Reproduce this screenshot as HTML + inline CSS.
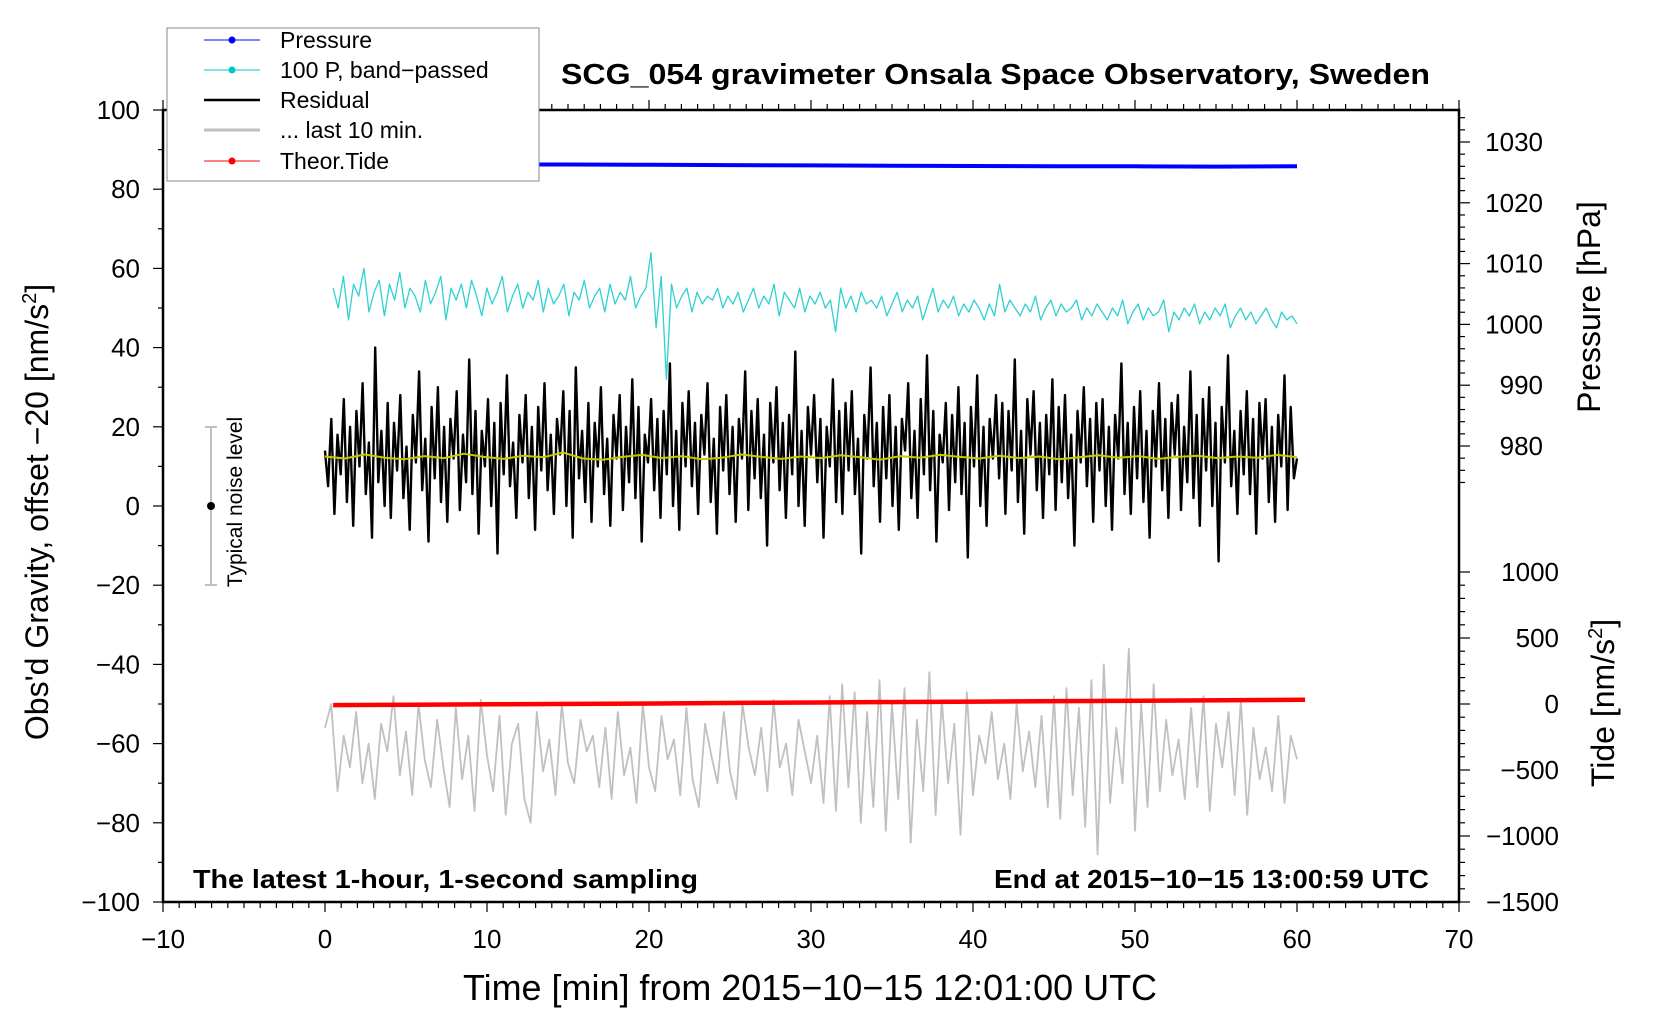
<!DOCTYPE html>
<html><head><meta charset="utf-8"><style>
body{margin:0;background:#fff;width:1660px;height:1020px;overflow:hidden}
svg{display:block;font-family:"Liberation Sans",sans-serif}
</style></head><body>
<svg id="chart" width="1660" height="1020" viewBox="0 0 1660 1020" xmlns="http://www.w3.org/2000/svg">
<g id="marks"></g>
<g id="axes"></g>
<text x="1430" y="84" text-anchor="end" font-weight="bold" font-size="29" textLength="869" lengthAdjust="spacingAndGlyphs">SCG_054 gravimeter Onsala Space Observatory, Sweden</text>
<text x="193" y="888" font-weight="bold" font-size="26" textLength="505" lengthAdjust="spacingAndGlyphs">The latest 1-hour, 1-second sampling</text>
<text x="1429" y="888" text-anchor="end" font-weight="bold" font-size="26" textLength="435" lengthAdjust="spacingAndGlyphs">End at 2015−10−15 13:00:59 UTC</text>
<text x="810" y="1000" text-anchor="middle" font-size="36" textLength="694" lengthAdjust="spacingAndGlyphs">Time [min] from 2015−10−15 12:01:00 UTC</text>
<text transform="translate(48,512) rotate(-90)" text-anchor="middle" font-size="32">Obs'd Gravity, offset −20 [nm/s<tspan font-size="20" dy="-12">2</tspan><tspan dy="12">]</tspan></text>
<text transform="translate(1600,307) rotate(-90)" text-anchor="middle" font-size="32">Pressure [hPa]</text>
<text transform="translate(1614,703) rotate(-90)" text-anchor="middle" font-size="32">Tide [nm/s<tspan font-size="20" dy="-12">2</tspan><tspan dy="12">]</tspan></text>
<g>
<line x1="211" y1="427" x2="211" y2="585" stroke="#c0c0c0" stroke-width="2"/>
<line x1="205" y1="427" x2="217" y2="427" stroke="#c0c0c0" stroke-width="2"/>
<line x1="205" y1="585" x2="217" y2="585" stroke="#c0c0c0" stroke-width="2"/>
<circle cx="211" cy="506" r="4" fill="#000"/>
<text transform="translate(242,502) rotate(-90)" text-anchor="middle" font-size="21">Typical noise level</text>
</g>
<g>
<rect x="167" y="28" width="372" height="153" fill="#fff" stroke="#888" stroke-width="1"/>
<g><line x1="204" y1="40" x2="260" y2="40" stroke="#0000ff" stroke-width="1"/><circle cx="232" cy="40" r="3.5" fill="#0000ff"/><text x="280" y="48" font-size="23">Pressure</text></g>
<g><line x1="204" y1="70" x2="260" y2="70" stroke="#00c8c8" stroke-width="1"/><circle cx="232" cy="70" r="3.5" fill="#00c8c8"/><text x="280" y="78" font-size="23">100 P, band−passed</text></g>
<g><line x1="204" y1="100" x2="260" y2="100" stroke="#000" stroke-width="2.5"/><text x="280" y="108" font-size="23">Residual</text></g>
<g><line x1="204" y1="130" x2="260" y2="130" stroke="#c0c0c0" stroke-width="3"/><text x="280" y="138" font-size="23">... last 10 min.</text></g>
<g><line x1="204" y1="161" x2="260" y2="161" stroke="#ff0000" stroke-width="1"/><circle cx="232" cy="161" r="3.5" fill="#ff0000"/><text x="280" y="169" font-size="23">Theor.Tide</text></g>
</g>
</svg>
<script>
const residual=[14,5,22,-2,18,8,27,1,20,-5,24,10,31,3,16,-8,40,6,19,0,26,-3,21,9,28,2,15,-6,23,11,34,4,17,-9,25,7,30,1,20,-4,22,12,29,-1,18,6,37,3,24,-7,19,10,27,0,21,-12,26,8,33,5,16,-3,23,11,28,2,20,-6,25,9,31,4,18,-2,22,13,29,0,24,-8,35,7,19,1,26,-4,21,10,30,3,17,-5,23,12,28,-1,20,6,32,2,25,-9,18,11,27,4,22,-3,24,8,36,0,19,-6,26,10,29,5,21,-2,23,13,31,1,17,-7,25,9,28,3,20,-4,22,12,34,-1,24,7,27,2,18,-10,26,11,30,4,21,-3,23,8,39,0,19,-5,25,13,28,6,22,-8,20,10,32,1,24,-2,26,9,29,3,17,-12,23,12,35,5,21,-4,25,7,28,0,20,-6,22,14,31,2,19,-3,27,8,38,4,24,-9,18,11,26,-1,23,6,30,3,21,-13,25,10,33,0,20,-5,22,12,28,7,26,-2,24,9,37,1,19,-7,27,13,29,4,21,-3,23,8,32,-1,25,6,28,2,18,-10,24,11,30,5,22,-4,26,9,27,0,20,-6,23,12,36,3,21,-2,25,7,29,1,19,-8,24,10,31,4,22,-3,26,13,28,-1,20,6,34,2,23,-5,27,9,30,0,21,-14,25,11,38,5,19,-2,24,8,29,3,22,-7,26,12,27,1,20,-4,23,10,33,-1,25,7,12];
const bandpassed=[55,50,58,47,56,53,60,49,54,57,48,56,52,59,50,55,53,49,57,51,54,58,47,55,52,56,50,57,53,48,55,51,54,58,49,53,56,50,54,52,57,49,55,51,53,56,48,54,52,57,50,53,55,49,56,51,54,52,58,50,53,55,64,45,58,32,56,50,53,55,49,54,51,53,52,55,50,53,51,54,49,52,55,50,53,51,56,48,54,52,50,55,49,53,51,54,50,52,44,55,50,53,49,54,51,52,50,53,48,51,54,49,52,50,53,47,51,55,49,52,50,53,48,51,49,52,50,47,51,48,56,49,52,50,48,51,49,53,47,50,52,48,51,49,50,52,47,50,48,51,49,47,50,48,52,46,49,51,47,50,48,49,52,44,49,47,50,48,51,46,49,47,50,48,51,45,48,50,47,49,46,48,50,47,45,49,47,48,46];
const last10=[-56,-50,-72,-58,-66,-52,-70,-60,-74,-55,-62,-48,-68,-57,-73,-50,-64,-71,-54,-66,-76,-51,-69,-58,-77,-49,-63,-72,-53,-78,-60,-55,-74,-80,-52,-67,-59,-73,-50,-65,-70,-54,-62,-58,-71,-56,-74,-52,-68,-61,-75,-50,-66,-72,-53,-64,-59,-73,-51,-69,-76,-55,-63,-70,-52,-67,-74,-50,-61,-68,-56,-72,-49,-66,-60,-73,-54,-62,-70,-58,-75,-48,-77,-45,-71,-47,-80,-52,-76,-44,-82,-50,-74,-46,-85,-54,-72,-42,-78,-49,-70,-55,-83,-47,-73,-58,-65,-52,-69,-60,-74,-50,-67,-57,-71,-53,-76,-48,-79,-46,-73,-51,-81,-44,-88,-40,-75,-56,-70,-36,-82,-50,-76,-45,-72,-54,-68,-59,-74,-51,-71,-48,-77,-55,-66,-52,-73,-49,-78,-56,-69,-61,-72,-53,-75,-58,-64];
const smoothed=[12.5,12,13,12.2,11.8,12.6,12.1,13.2,12.4,11.9,12.7,12.3,13.5,12,11.7,12.4,12.9,12.1,12.6,11.8,12.2,13,12.4,11.9,12.5,12.1,12.8,12.3,11.7,12.6,12.2,12.9,12.4,12,12.7,12.1,12.5,11.8,12.3,12.8,12.2,12.6,11.9,12.4,12.7,12.1,12.5,12.2,12.9,12.3];
const pressure=[1026.4,1026.35,1026.3,1026.3,1026.25,1026.2,1026.15,1026.1,1026.05,1026.0,1026.0,1025.95,1026.0];
const tide=[-8,-5,-2,1,4,8,11,15,18,22,25,28,32];
const xTicks=[-10,0,10,20,30,40,50,60,70];
const yTicks=[100,80,60,40,20,0,-20,-40,-60,-80,-100];
const pTicks=[1030,1020,1010,1000,990,980];
const tTicks=[1000,500,0,-500,-1000,-1500];

const X=t=>325+t*16.2, Y=v=>506-v*3.96, P=v=>142+(1030-v)*6.08, T=v=>704-v*0.132;
const NS='http://www.w3.org/2000/svg';
const marks=document.getElementById('marks'), axes=document.getElementById('axes');
function mk(tag,attrs,parent){const e=document.createElementNS(NS,tag);for(const k in attrs)e.setAttribute(k,attrs[k]);parent.appendChild(e);return e;}
function series(arr,t0,t1,fy,color,w,name){
  const n=arr.length;let d='';
  arr.forEach((v,i)=>{d+=(i?'L':'M')+X(t0+(t1-t0)*i/(n-1)).toFixed(1)+','+fy(v).toFixed(1);});
  const p=mk('path',{d:d,fill:'none',stroke:color,'stroke-width':w,'stroke-linejoin':'round'},marks);
  
  
}
series(pressure,0,60,P,'#0000ff',4,'pressure-line');
series(bandpassed,0.5,60,Y,'#30d0d0',1.3,'bandpassed-line');
series(last10,0,60,Y,'#c0c0c0',1.8,'last10-line');
series(residual,0,60,Y,'#000',2.4,'residual-line');
series(smoothed,0,60,Y,'#c8c800',2,'smoothed-residual-line');
series(tide,0.5,60.5,T,'#ff0000',4.5,'tide-line');

const frame=mk('rect',{x:163,y:110,width:1296,height:792,fill:'none',stroke:'#000','stroke-width':2.5},axes);


for(let t=-10;t<=70;t++){const big=t%10===0,L=big?10:6;
  mk('line',{x1:X(t),y1:902,x2:X(t),y2:902+L,stroke:'#000','stroke-width':1.2},axes);
  mk('line',{x1:X(t),y1:110,x2:X(t),y2:110-L,stroke:'#000','stroke-width':1.2},axes);}
xTicks.forEach(t=>{const e=mk('text',{x:X(t),y:948,'text-anchor':'middle','font-size':26},axes);e.textContent=String(t).replace('-','−');
  
  });
for(let v=-100;v<=100;v+=10){mk('line',{x1:163,y1:Y(v),x2:163-(v%20===0?10:5),y2:Y(v),stroke:'#000','stroke-width':1.2},axes);}
yTicks.forEach(v=>{const e=mk('text',{x:140,y:Y(v)+9,'text-anchor':'end','font-size':26},axes);e.textContent=String(v).replace('-','−');
  
  });
for(let v=1034;v>=974;v-=2){mk('line',{x1:1459,y1:P(v),x2:1459+(v%10===0?11:6),y2:P(v),stroke:'#000','stroke-width':1.2},axes);}
pTicks.forEach(v=>{const e=mk('text',{x:1543,y:P(v)+9,'text-anchor':'end','font-size':26},axes);e.textContent=v;
  
  });
for(let v=1000;v>=-1500;v-=100){mk('line',{x1:1459,y1:T(v),x2:1459+(v%500===0?11:6),y2:T(v),stroke:'#000','stroke-width':1.2},axes);}
tTicks.forEach(v=>{const e=mk('text',{x:1559,y:T(v)+9,'text-anchor':'end','font-size':26},axes);e.textContent=String(v).replace('-','−');
  
  });
</script>
</body></html>
